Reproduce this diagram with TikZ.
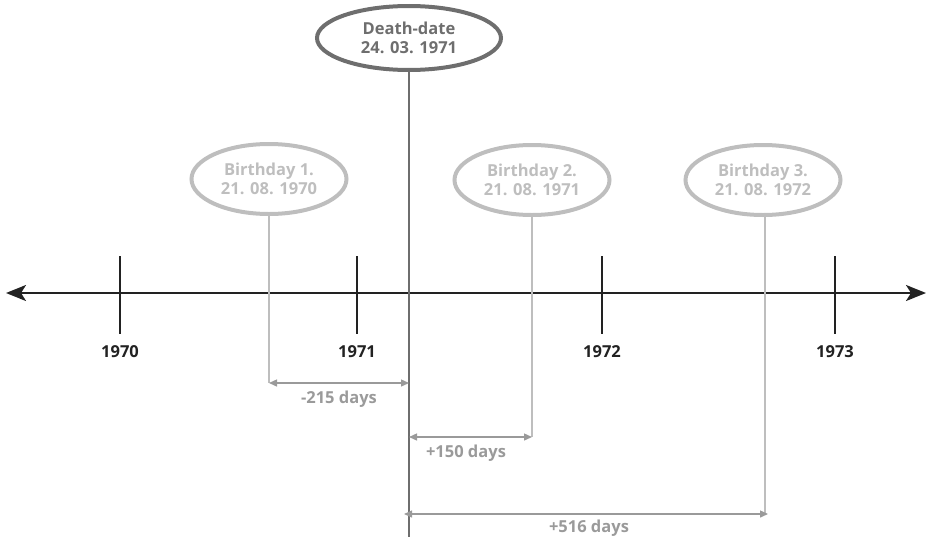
\documentclass[tikz,border=0pt]{standalone}
\usepackage{fontspec}
\setmainfont{Open Sans}
\usetikzlibrary{arrows.meta,shapes.geometric}
\definecolor{axis}{HTML}{222222}
\definecolor{deathc}{HTML}{6E6E6E}
\definecolor{birthc}{HTML}{BEBEBE}
\definecolor{spanc}{HTML}{9A9A9A}
\tikzset{
  lbl/.style={font=\fontsize{16.5}{19}\selectfont\bfseries, align=center, inner sep=0pt},
  deathbox/.style={ellipse, draw=deathc, line width=4pt, minimum width=184pt, minimum height=64pt, text=deathc, lbl},
  birthbox/.style={ellipse, draw=birthc, line width=4pt, minimum width=155pt, minimum height=70pt, text=birthc, lbl},
  tickline/.style={draw=axis, line width=2.2pt},
  year/.style={lbl, text=axis},
  span/.style={draw=spanc, line width=1.4pt, {Triangle[length=8pt,width=7pt]}-{Triangle[length=8pt,width=7pt]}},
  spanlbl/.style={lbl, text=spanc},
  drop/.style={draw=birthc, line width=2pt},
}
\begin{document}
\begin{tikzpicture}[x=1pt,y=-1pt]
\useasboundingbox (0,0) rectangle (928,538);
% axis
\coordinate (L) at (6,293);
\coordinate (R) at (926,293);
\draw[draw=axis, line width=2.2pt, {Stealth[length=20pt,width=16pt,inset=5pt]}-{Stealth[length=20pt,width=16pt,inset=5pt]}] (L) -- (R);
% ticks
\foreach \n/\x/\yr in {a/120/1970, b/357/1971, c/602/1972, d/835/1973}{
  \coordinate (t\n1) at (\x,256);
  \coordinate (t\n2) at (\x,334);
  \draw[tickline] (t\n1) -- (t\n2);
  \node[year] (y\n) at (\x,352) {\yr};
}
% death date
\node[deathbox] (death) at (409,38) {Death-date\\24. 03. 1971};
\coordinate (deathend) at (409,537);
\draw[draw=deathc, line width=2.4pt] (death.south) -- (deathend);
% birthdays
\node[birthbox] (b1) at (269,179) {Birthday 1.\\21. 08. 1970};
\node[birthbox] (b2) at (532,180) {Birthday 2.\\21. 08. 1971};
\node[birthbox] (b3) at (763,180) {Birthday 3.\\21. 08. 1972};
\coordinate (b1e) at (269,383);
\coordinate (b2e) at (532,437);
\coordinate (b3e) at (765,514);
\coordinate (b3a) at (768,514);
\draw[drop] (b1.south) -- (b1e);
\draw[drop] (b2.south) -- (b2e);
\draw[drop] (b3.south -| b3e) -- (b3e);
% spans
\coordinate (d1) at (409,383);
\coordinate (d2) at (409,437);
\coordinate (d3) at (404,514);
\draw[span] (b1e) -- (d1);
\node[spanlbl] (s1) at (339,399) {-215 days};
\draw[span] (d2) -- (b2e);
\node[spanlbl] (s2) at (466,453) {+150 days};
\draw[span] (d3) -- (b3a);
\node[spanlbl] (s3) at (589,528) {+516 days};
\end{tikzpicture}
\end{document}
